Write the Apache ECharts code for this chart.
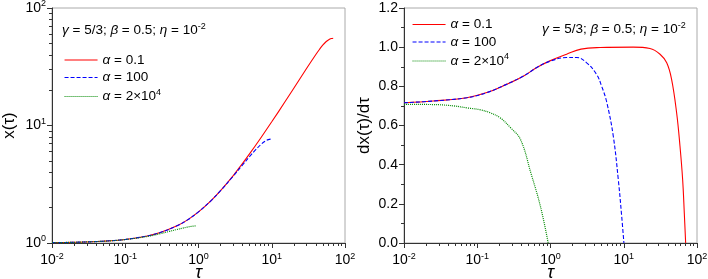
<!DOCTYPE html>
<html>
<head>
<meta charset="utf-8">
<script src="https://cdn.jsdelivr.net/npm/echarts@6/dist/echarts.min.js"></script>
<style>html,body{margin:0;padding:0;background:#fff}#c{width:708px;height:279px}</style>
</head>
<body>
<div id="c"></div>
<script>
// ---- Left panel: x(tau), log-log ----
var tauRedX  = [0.01,0.02,0.05,0.1,0.2,0.3,0.5,0.7,1,1.5,2,3,4,5,7,10,15,20,30,40,45,50,55,60,65,69];
var xRed     = [1.007,1.014,1.036,1.072,1.148,1.227,1.393,1.566,1.84,2.31,2.79,3.77,4.765,5.76,7.755,10.75,15.75,20.75,30.7,40.2,44.6,48.5,51.6,53.7,54.9,55.3];
var tauBlueX = [0.01,0.02,0.05,0.1,0.2,0.3,0.5,0.7,1,1.5,2,3,4,5,6,7,8,9,10.05];
var xBlue    = [1.007,1.014,1.036,1.072,1.148,1.227,1.393,1.566,1.84,2.31,2.79,3.73,4.62,5.45,6.2,6.83,7.3,7.58,7.68];
var tauGreenX= [0.01,0.02,0.05,0.1,0.2,0.3,0.4,0.5,0.6,0.7,0.8,0.93];
var xGreen   = [1.007,1.014,1.035,1.07,1.137,1.2,1.255,1.30,1.335,1.365,1.385,1.40];
// ---- Right panel: dx/dtau ----
var tauRedD  = [0.01,0.025,0.072,0.135,0.25,0.43,0.65,0.98,1.66,2.61,4.74,13.5,22.8,31.3,38.6,45,52.7,58.6,63.7,67.1,70];
var dRed     = [0.716,0.725,0.742,0.768,0.81,0.853,0.896,0.93,0.964,0.99,0.998,1.0,0.993,0.964,0.92,0.836,0.665,0.494,0.323,0.152,0.0];
var tauBlueD = [0.01,0.025,0.072,0.135,0.25,0.43,0.65,0.98,1.66,2.28,3.12,4.27,5.0,5.85,7.2,8.43,9.38,10.05];
var dBlue    = [0.716,0.725,0.742,0.768,0.81,0.853,0.896,0.928,0.947,0.947,0.92,0.86,0.80,0.72,0.545,0.323,0.135,0.0];
var tauGreenD= [0.01,0.025,0.048,0.072,0.111,0.15,0.204,0.286,0.39,0.54,0.73,0.93];
var dGreen   = [0.708,0.707,0.70,0.69,0.68,0.665,0.64,0.588,0.528,0.357,0.186,0.0];
// ---- ticks / labels ----
var xMajor = [0.01,0.1,1,10,100];
var yLogMajor = [1,10,100];
var leftNames = ['a1','a2','a3'];
var rightNames = ['b1','b2','b3'];
var legendLabels = {
  a1:'{g|α} = 0.1', a2:'{g|α} = 100', a3:'{g|α} = 2×10{s|4}',
  b1:'{g|α} = 0.1', b2:'{g|α} = 100', b3:'{g|α} = 2×10{s|4}'
};
var annot = '{g|γ} = 5/3; {g|β} = 0.5; {g|η} = 10{s|-2}';

function minorLog(lo, hi){ var r=[]; for(var d=lo; d<hi; d*=10){ for(var k=2;k<=9;k++){ r.push(+(d*k).toPrecision(3)); } } return r; }
function zip(a,b){ return a.map(function(v,i){ return [v,b[i]]; }); }

var FONT = '"Liberation Sans", Arial, sans-serif';
var supRich = {
  b:{fontSize:14, fontFamily:FONT, color:'#000'},
  s:{fontSize:9, fontFamily:FONT, color:'#000', padding:[0,0,8,0]}
};
function expFmt(v){ var e=Math.round(Math.log10(v)); return '{b|10}{s|'+e+'}'; }
var textRich = {
  g:{fontStyle:'italic', fontSize:13.5, fontFamily:FONT, color:'#000'},
  s:{fontSize:9, fontFamily:FONT, color:'#000', padding:[0,0,8,0]}
};

function majorLogX(grid){
  return {type:'log', gridIndex:grid, min:0.01, max:100, position:'bottom',
    axisLine:{show:true, onZero:false, lineStyle:{color:'#333', width:1}},
    axisTick:{show:true, length:5, customValues:xMajor, lineStyle:{color:'#333'}},
    axisLabel:{customValues:xMajor, formatter:expFmt, rich:supRich, margin:9, color:'#000'},
    splitLine:{show:false},
    name:'τ', nameLocation:'middle', nameGap:21, nameMoveOverlap:false,
    nameTextStyle:{fontStyle:'italic', fontSize:18, fontFamily:FONT, color:'#000'}};
}
function minorLogX(grid){
  return {type:'log', gridIndex:grid, min:0.01, max:100, position:'bottom',
    axisLine:{show:false, onZero:false},
    axisTick:{show:true, length:3, customValues:minorLog(0.01,100), lineStyle:{color:'#333'}},
    axisLabel:{show:false}, splitLine:{show:false}};
}

var chart = echarts.init(document.getElementById('c'), null, {renderer:'canvas'});
function styleFor(k){
  if (k === 1) return {color:'#ff0000', width:1.1, type:'solid'};
  if (k === 2) return {color:'#0000ff', width:1.1, type:[4,2]};
  return {color:'#008a00', width:1.2, type:[1,1]};
}
function ser(name, k, xi, yi, data){
  var ls = styleFor(k);
  return {name:name, type:'line', xAxisIndex:xi, yAxisIndex:yi, data:data, showSymbol:false, symbol:'none',
    smooth:0.4, lineStyle:ls, itemStyle:{color:ls.color}, animation:false};
}
function legend(left, top, names){
  return {left:left, top:top, orient:'vertical', itemWidth:33, itemHeight:10, itemGap:3.5, padding:0,
    itemStyle:{opacity:0}, lineStyle:{width:1.1},
    data:names.slice(), formatter:function(n){return legendLabels[n];},
    textStyle:{fontSize:13.5, fontFamily:FONT, color:'#000', rich:textRich}, selectedMode:false};
}

chart.setOption({
  backgroundColor:'#fff',
  animation:false,
  grid:[
    {left:52, right:363, top:8, bottom:36, outerBoundsMode:'none', containLabel:false, show:true, borderColor:'#aaa', borderWidth:1, backgroundColor:'transparent'},
    {left:404, right:11, top:8, bottom:36, outerBoundsMode:'none', containLabel:false, show:true, borderColor:'#aaa', borderWidth:1, backgroundColor:'transparent'}
  ],
  xAxis:[majorLogX(0), minorLogX(0), majorLogX(1), minorLogX(1)],
  yAxis:[
    {type:'log', gridIndex:0, min:1, max:100, position:'left',
     axisLine:{show:true, onZero:false, lineStyle:{color:'#333'}},
     axisTick:{show:true, length:5, customValues:yLogMajor, lineStyle:{color:'#333'}},
     axisLabel:{customValues:yLogMajor, formatter:expFmt, rich:supRich, margin:6, color:'#000'},
     splitLine:{show:false},
     name:'x(τ)', nameLocation:'middle', nameGap:34,
     nameTextStyle:{fontSize:17, fontFamily:FONT, color:'#000'}},
    {type:'log', gridIndex:0, min:1, max:100, position:'left',
     axisLine:{show:false, onZero:false},
     axisTick:{show:true, length:3, customValues:minorLog(1,100), lineStyle:{color:'#333'}},
     axisLabel:{show:false}, splitLine:{show:false}},
    {type:'value', gridIndex:1, min:0, max:1.2, interval:0.2, position:'left',
     axisLine:{show:true, onZero:false, lineStyle:{color:'#333'}},
     axisTick:{show:true, length:5, lineStyle:{color:'#333'}},
     minorTick:{show:true, splitNumber:2, length:3, lineStyle:{color:'#333'}},
     axisLabel:{formatter:function(v){return v.toFixed(1);}, fontSize:14, fontFamily:FONT, color:'#000', margin:6},
     splitLine:{show:false},
     name:'dx(τ)/dτ', nameLocation:'middle', nameGap:31,
     nameTextStyle:{fontSize:17, fontFamily:FONT, color:'#000'}}
  ],
  legend:[legend(64,53,leftNames), legend(412,17.5,rightNames)],
  graphic:[
    {type:'text', left:62, top:22, style:{text:annot, rich:textRich, fontSize:13.5, fontFamily:FONT, fill:'#000'}},
    {type:'text', left:542, top:21, style:{text:annot, rich:textRich, fontSize:13.5, fontFamily:FONT, fill:'#000'}}
  ],
  series:[
    ser('a1',1,0,0,zip(tauRedX,xRed)),
    ser('a2',2,0,0,zip(tauBlueX,xBlue)),
    ser('a3',3,0,0,zip(tauGreenX,xGreen)),
    ser('b1',1,2,2,zip(tauRedD,dRed)),
    ser('b2',2,2,2,zip(tauBlueD,dBlue)),
    ser('b3',3,2,2,zip(tauGreenD,dGreen))
  ]
});
</script>
</body>
</html>
